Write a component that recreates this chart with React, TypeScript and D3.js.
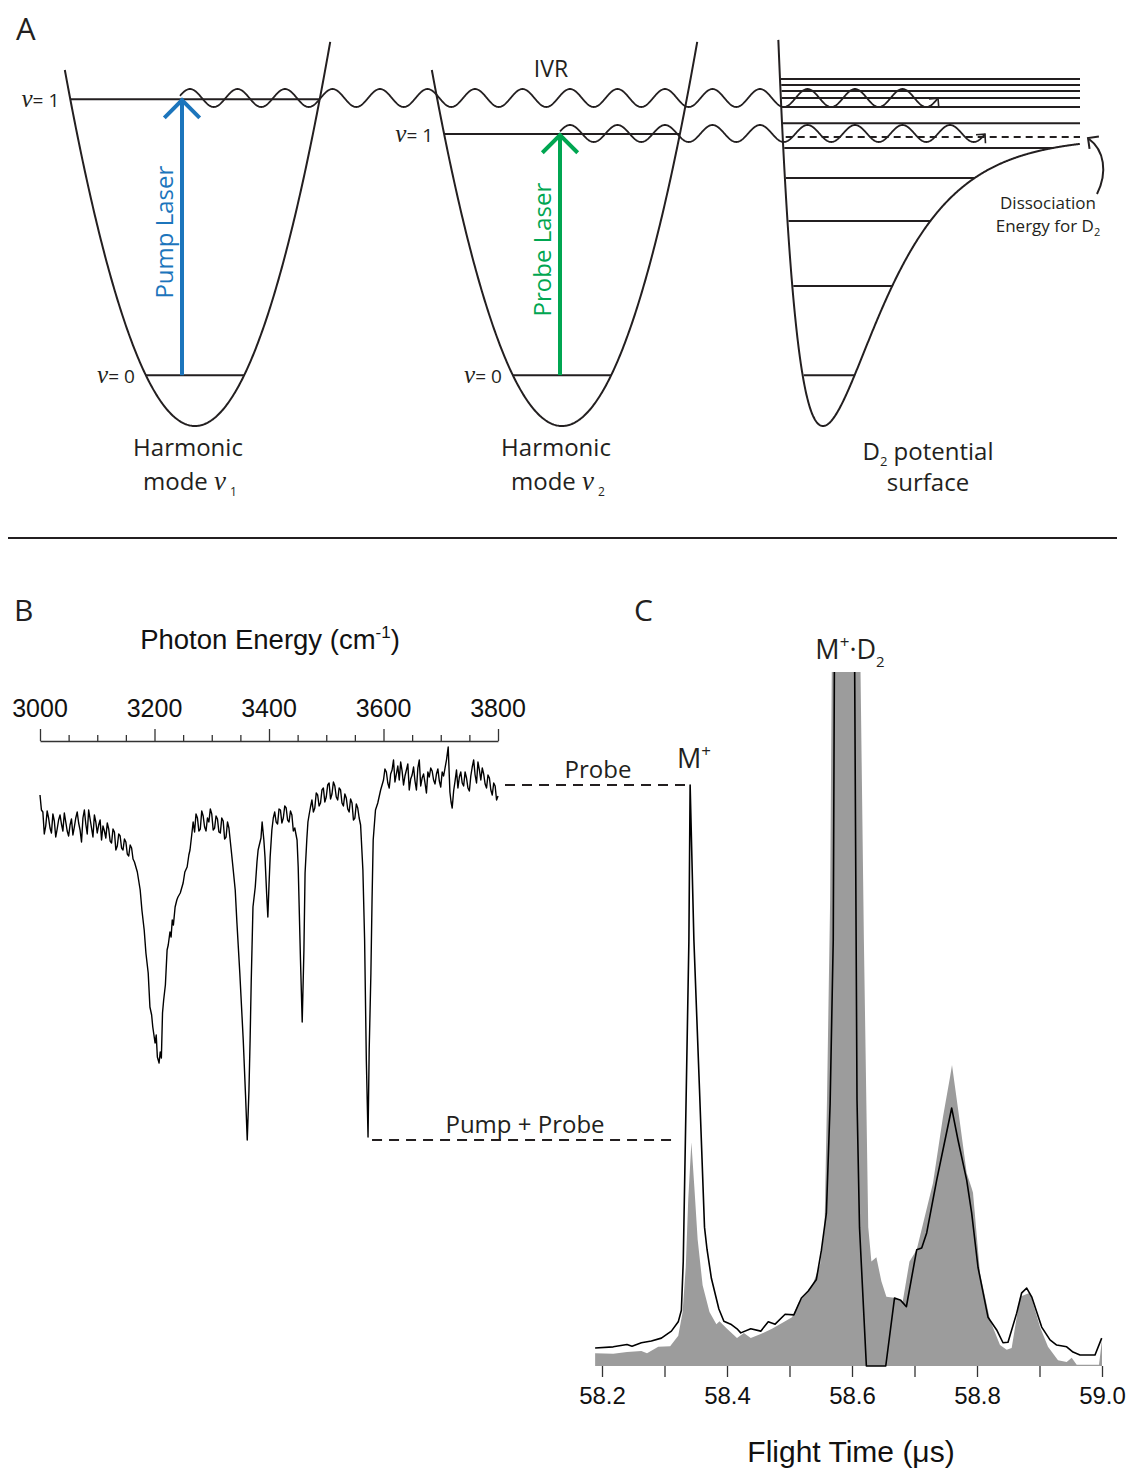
import React, { useEffect, useRef } from "react";
import * as d3 from "d3";

const WIDTH = 1130;
const HEIGHT = 1470;

const SANS = "'Open Sans', 'Noto Sans', sans-serif";
const ARIAL = "'Liberation Sans', Arial, sans-serif";
const SERIF = "'Liberation Serif', 'DejaVu Serif', serif";
const INK = "#231f20";
const PUMP_BLUE = "#1c75bc";
const PROBE_GREEN = "#00a651";
const TRACE_GRAY = "#9c9c9c";

// ---------- Panel A: vibrational energies (units of the D2 binding energy)
const pumpModeLevels = [0.176, 1.131];
const probeModeLevels = [0.176, 1.01];
const d2BoundLevels = [0.176, 0.484, 0.709, 0.858, 0.962];
const d2ContinuumLevels = [1.048, 1.104, 1.135, 1.159, 1.18, 1.201];
const d2DissociationEnergy = 1.0;

// ---------- Panel B: photon energy (cm-1) vs. M+ signal (arb. units)
const photonEnergyTicks = [3000, 3200, 3400, 3600, 3800];
const spectrum: [number, number][] = [
  [3000, 345], [3002.5, 330], [3005, 328], [3007.5, 306], [3010, 314], [3012.5, 329], [3015, 322],
  [3017.5, 312], [3020, 307], [3022.5, 326], [3025, 319], [3027.5, 303], [3030, 311], [3032.5, 320],
  [3035, 325], [3037.5, 316], [3040, 309], [3042.5, 327], [3045, 318], [3047.5, 309], [3050, 304],
  [3052.5, 315], [3055, 321], [3057.5, 305], [3060, 313], [3062.5, 322], [3065, 328], [3067.5, 317],
  [3070, 310], [3072.5, 298], [3075, 322], [3077.5, 330], [3080, 316], [3082.5, 306], [3085, 330],
  [3087.5, 321], [3090, 312], [3092.5, 303], [3095, 325], [3097.5, 318], [3100, 307], [3102.5, 315],
  [3105, 320], [3107.5, 300], [3110, 314], [3112.5, 309], [3115, 302], [3117.5, 317], [3120, 311],
  [3122.5, 299], [3125, 297], [3127.5, 311], [3130, 308], [3132.5, 290], [3135, 294], [3137.5, 306],
  [3140, 304], [3142.5, 292], [3145, 290], [3147.5, 301], [3150, 298], [3152.5, 286], [3155, 284],
  [3157.5, 295], [3160, 292], [3162.5, 281], [3165, 278], [3170, 268],
  [3175, 250], [3178, 230], [3182, 210], [3185, 187], [3189, 167], [3192, 133], [3195, 125],
  [3197, 113], [3201, 97], [3203, 105], [3205, 83], [3208, 77], [3210, 88], [3212, 82],
  [3214, 127], [3216, 140], [3219, 155], [3222, 190], [3224, 195], [3227, 208], [3229, 203],
  [3231, 220], [3233, 215], [3236, 233], [3239, 240], [3241, 243], [3245, 247], [3250, 257],
  [3253, 268], [3257, 273], [3260, 285], [3262, 290], [3265, 305], [3267.5, 318], [3270, 308],
  [3272.5, 326], [3275, 322], [3277.5, 309], [3280, 311], [3282.5, 329], [3285, 324], [3287.5, 313],
  [3290, 309], [3292.5, 322], [3295, 318], [3297.5, 331], [3300, 326], [3302.5, 310], [3305, 312],
  [3307.5, 324], [3310, 321], [3312.5, 308], [3315, 307], [3317.5, 322], [3320, 319], [3322.5, 301],
  [3325, 303], [3327.5, 318], [3330, 312], [3334, 290], [3337, 273], [3341, 250],
  [3344, 217], [3349, 167], [3355, 100], [3359, 45], [3362, 0], [3365, 50], [3367, 100],
  [3369, 160], [3372, 233], [3376, 253], [3379, 278], [3381, 290], [3386, 302], [3388, 318],
  [3391, 300], [3393, 283], [3396, 245], [3398, 223], [3400, 255], [3402, 283], [3405, 310],
  [3407.5, 322], [3410, 328], [3412.5, 318], [3415, 316], [3417.5, 331], [3420, 330], [3422.5, 317],
  [3425, 322], [3427.5, 334], [3430, 332], [3432.5, 320], [3435, 318], [3437.5, 329], [3440, 325],
  [3442.5, 309], [3445, 312], [3449, 300], [3451, 273], [3455, 180], [3458, 118], [3461, 190],
  [3463, 267], [3466, 300], [3468, 318], [3470, 325], [3472.5, 333], [3475, 340], [3477.5, 328],
  [3480, 332], [3482.5, 347], [3485, 345], [3487.5, 334], [3490, 337], [3492.5, 350], [3495, 352],
  [3497.5, 338], [3500, 343], [3502.5, 355], [3505, 357], [3507.5, 341], [3510, 346], [3512.5, 358],
  [3515, 354], [3517.5, 343], [3520, 340], [3522.5, 352], [3525, 350], [3527.5, 337], [3530, 334],
  [3532.5, 346], [3535, 342], [3537.5, 331], [3540, 328], [3542.5, 341], [3545, 337], [3547.5, 320],
  [3550, 322], [3552.5, 336], [3555, 332], [3557.5, 322], [3560, 315], [3564, 270],
  [3567, 200], [3570, 80], [3573, 3], [3575, 90], [3578, 167], [3580, 240], [3582, 300],
  [3586, 330], [3590, 337], [3595, 350], [3600, 360], [3602.5, 371], [3605, 368], [3607.5, 357],
  [3610, 352], [3612.5, 366], [3615, 370], [3617.5, 380], [3620, 358], [3622.5, 366], [3625, 374],
  [3627.5, 360], [3630, 378], [3632.5, 369], [3635, 355], [3637.5, 364], [3640, 370], [3642.5, 376],
  [3645, 350], [3647.5, 361], [3650, 365], [3652.5, 373], [3655, 359], [3657.5, 350], [3660, 372],
  [3662.5, 380], [3665, 354], [3667.5, 362], [3670, 366], [3672.5, 357], [3675, 347], [3677.5, 368],
  [3680, 363], [3682.5, 372], [3685, 369], [3687.5, 360], [3690, 356], [3692.5, 366], [3695, 371],
  [3697.5, 359], [3700, 353], [3702.5, 368], [3705, 364], [3707.5, 372], [3710, 380], [3713, 393],
  [3716, 348], [3718, 338], [3720, 332], [3722.5, 349], [3725, 359], [3727.5, 370], [3730, 352],
  [3732.5, 363], [3735, 368], [3737.5, 357], [3740, 354], [3742.5, 368], [3745, 362], [3747.5, 352],
  [3750, 349], [3752.5, 364], [3755, 373], [3757.5, 380], [3760, 365], [3762.5, 357], [3765, 378],
  [3767.5, 370], [3770, 360], [3772.5, 372], [3775, 366], [3777.5, 356], [3780, 352], [3782.5, 365],
  [3785, 362], [3787.5, 350], [3790, 345], [3792.5, 357], [3795, 354], [3797.5, 340], [3800, 344],
];
const probeOnlyLevel = 355;
const pumpProbeLevel = 0;

// ---------- Panel C: flight time (µs) vs. ion signal (% of probe-only M+ peak)
const flightTimeTicks = [58.2, 58.3, 58.4, 58.5, 58.6, 58.7, 58.8, 58.9, 59.0];
const flightTimeLabels = [58.2, 58.4, 58.6, 58.8, 59.0];
const probeTrace: [number, number][] = [
  [58.189, 3.1], [58.218, 3.3], [58.24, 3.7], [58.248, 3.4], [58.263, 4.0], [58.279, 4.3],
  [58.295, 4.8], [58.311, 6.0], [58.322, 7.6], [58.327, 9.6], [58.33, 18.0], [58.339, 73.0],
  [58.341, 100], [58.347, 73.4], [58.356, 47.6], [58.364, 23.9], [58.368, 20.1], [58.375, 15.1],
  [58.387, 9.8], [58.395, 7.7], [58.406, 7.2], [58.416, 6.4], [58.422, 5.7], [58.438, 6.4],
  [58.454, 6.0], [58.466, 7.6], [58.477, 7.2], [58.493, 8.9], [58.507, 8.8], [58.519, 11.7],
  [58.53, 12.9], [58.543, 14.9], [58.551, 19.9], [58.559, 26.3], [58.565, 45.2], [58.57, 73.4],
  [58.572, 125], [58.604, 125], [58.608, 45.9], [58.612, 23.9], [58.623, 0], [58.654, 0],
  [58.668, 11.7], [58.678, 11.3], [58.687, 10.2], [58.7035, 20.0], [58.7115, 20.3], [58.7195, 22.9],
  [58.7355, 32.0], [58.7595, 44.4], [58.7696, 38.9], [58.7835, 32.0], [58.7915, 26.3], [58.8016, 17.0],
  [58.8176, 8.4], [58.8315, 6.2], [58.8416, 4.0], [58.8496, 4.1], [58.8635, 9.1], [58.8715, 12.6],
  [58.8795, 13.4], [58.8875, 11.9], [58.9035, 6.7], [58.9168, 4.5], [58.9275, 3.6], [58.9435, 3.3],
  [58.9536, 2.4], [58.9648, 1.9], [58.9888, 1.9], [58.9995, 4.8],
];
const pumpProbeTrace: [number, number][] = [
  [58.189, 2.2], [58.218, 2.1], [58.24, 2.4], [58.263, 2.6], [58.272, 2.2], [58.29, 3.3],
  [58.309, 3.4], [58.322, 5.2], [58.329, 9.3], [58.334, 17.0], [58.338, 28.7], [58.343, 38.5],
  [58.348, 30.4], [58.353, 21.8], [58.361, 13.9], [58.372, 9.3], [58.383, 7.2], [58.388, 7.7],
  [58.4, 6.4], [58.416, 4.8], [58.427, 5.7], [58.438, 4.8], [58.454, 5.5], [58.472, 6.4],
  [58.493, 7.7], [58.504, 8.4], [58.515, 11.0], [58.527, 12.5], [58.538, 14.3], [58.549, 17.5],
  [58.556, 23.5], [58.56, 45.9], [58.565, 80.2], [58.568, 125], [58.613, 125], [58.619, 73.4],
  [58.626, 23.9], [58.631, 18.0], [58.639, 18.7], [58.647, 14.6], [58.655, 11.9], [58.67, 11.7],
  [58.681, 11.0], [58.692, 18.0], [58.7035, 20.0], [58.7296, 31.5], [58.7456, 42.9], [58.7568, 49.7],
  [58.76, 51.8], [58.7728, 41.8], [58.7835, 33.2], [58.7915, 30.6], [58.7936, 29.8], [58.8048, 16.0],
  [58.8208, 7.9], [58.8368, 3.6], [58.8475, 2.8], [58.8555, 3.1], [58.8688, 11.9], [58.8848, 12.6],
  [58.9008, 6.7], [58.9136, 3.3], [58.9296, 1.0], [58.9435, 0.7], [58.9515, 1.4], [58.9595, 0.2],
  [58.9952, 0.2], [59.0, 4.5],
];

type Sel = d3.Selection<any, any, any, any>;

function arrowBarbs(g: Sel, tip: [number, number], dir: [number, number], len: number, color: string, width: number) {
  const m = Math.hypot(dir[0], dir[1]);
  const ux = -dir[0] / m;
  const uy = -dir[1] / m;
  const rot = (a: number) => [
    tip[0] + len * (ux * Math.cos(a) - uy * Math.sin(a)),
    tip[1] + len * (ux * Math.sin(a) + uy * Math.cos(a)),
  ];
  const p1 = rot(Math.PI / 4);
  const p2 = rot(-Math.PI / 4);
  g.append("path")
    .attr("d", `M${p1[0]},${p1[1]}L${tip[0]},${tip[1]}L${p2[0]},${p2[1]}`)
    .attr("fill", "none")
    .attr("stroke", color)
    .attr("stroke-width", width)
    .attr("stroke-linejoin", "miter");
}

function nuLabel(g: Sel, xEnd: number, y: number, n: number) {
  const t = g.append("text").attr("x", xEnd).attr("y", y).attr("text-anchor", "end").attr("fill", INK);
  t.append("tspan").attr("font-family", SERIF).attr("font-style", "italic").attr("font-size", 25).text("ν");
  t.append("tspan").attr("font-family", SANS).attr("font-size", 19).text("= " + n);
}

function drawPanelA(svg: Sel) {
  const g = svg.append("g");
  const yE = d3.scaleLinear().domain([0, 1]).range([426, 137]);
  const line = d3.line<number[]>().x((d) => d[0]).y((d) => d[1]);
  const K = 7.27e-5;

  g.append("text").attr("x", 16).attr("y", 40).attr("font-family", SANS).attr("font-size", 31).attr("fill", INK).text("A");

  const wells = [
    { center: 195, topLeft: 1.232, topRight: 1.329, levels: pumpModeLevels, name: "Pump Laser", color: PUMP_BLUE, sub: "1", capX: 190 },
    { center: 562, topLeft: 1.232, topRight: 1.329, levels: probeModeLevels, name: "Probe Laser", color: PROBE_GREEN, sub: "2", capX: 558 },
  ];

  wells.forEach((w) => {
    const xl = w.center - Math.sqrt(w.topLeft / K);
    const xr = w.center + Math.sqrt(w.topRight / K);
    const pts = d3.range(xl, xr, 1).concat([xr]).map((x) => [x, yE(K * (x - w.center) ** 2)]);
    g.append("path").attr("d", line(pts)).attr("fill", "none").attr("stroke", INK).attr("stroke-width", 2);

    w.levels.forEach((E, i) => {
      const hw = Math.sqrt(E / K);
      g.append("line")
        .attr("x1", w.center - hw).attr("x2", w.center + hw)
        .attr("y1", yE(E)).attr("y2", yE(E))
        .attr("stroke", INK).attr("stroke-width", 2);
      nuLabel(g, w.center - hw - 11, yE(E) + 8, i);
    });

    const ax = w.center - 13 + (w.center > 300 ? 11 : 0);
    const yTop = yE(w.levels[1]);
    const yBot = yE(w.levels[0]);
    g.append("line").attr("x1", ax).attr("x2", ax).attr("y1", yBot).attr("y2", yTop + 1)
      .attr("stroke", w.color).attr("stroke-width", 4);
    arrowBarbs(g, [ax, yTop + 1], [0, -1], 25, w.color, 4);

    g.append("text")
      .attr("transform", `translate(${ax - 9},${(yTop + yBot) / 2 - 5}) rotate(-90)`)
      .attr("text-anchor", "middle").attr("font-family", SANS).attr("font-size", 24)
      .attr("fill", w.color).text(w.name);

    g.append("text").attr("x", w.capX - 2).attr("y", 456).attr("text-anchor", "middle")
      .attr("font-family", SANS).attr("font-size", 24).attr("fill", INK).text("Harmonic");
    const t = g.append("text").attr("x", w.capX).attr("y", 490).attr("text-anchor", "middle")
      .attr("fill", INK);
    t.append("tspan").attr("font-family", SANS).attr("font-size", 24).text("mode ");
    t.append("tspan").attr("font-family", SERIF).attr("font-style", "italic").attr("font-size", 27).text("ν");
    t.append("tspan").attr("font-family", SANS).attr("font-size", 12).attr("dx", 4).attr("dy", 6).text(w.sub);
  });

  // D2 Morse potential
  const x0 = 823;
  const a = 0.0172;
  const morse = (x: number) => (1 - Math.exp(-a * (x - x0))) ** 2;
  const leftWall = (E: number) => x0 - Math.log(1 + Math.sqrt(E)) / a;
  const rightWall = (E: number) => (E < 1 ? x0 - Math.log(1 - Math.sqrt(E)) / a : 1080);
  const xStart = leftWall(1.336);
  const mPts = d3.range(xStart, 1080, 0.5).map((x) => [x, yE(morse(x))]);
  g.append("path").attr("d", line(mPts)).attr("fill", "none").attr("stroke", INK).attr("stroke-width", 2);

  d2BoundLevels.concat(d2ContinuumLevels).forEach((E) => {
    g.append("line")
      .attr("x1", leftWall(E) + 1).attr("x2", rightWall(E))
      .attr("y1", yE(E)).attr("y2", yE(E))
      .attr("stroke", INK).attr("stroke-width", 2);
  });
  g.append("line")
    .attr("x1", leftWall(d2DissociationEnergy) + 3).attr("x2", 1080)
    .attr("y1", yE(d2DissociationEnergy)).attr("y2", yE(d2DissociationEnergy))
    .attr("stroke", INK).attr("stroke-width", 2).attr("stroke-dasharray", "7,5");

  // IVR waves
  const waves = [
    { x0: 180, x1: 938, yc: 98, amp: 9, lambda: 47.5, peak: 190 },
    { x0: 560, x1: 985, yc: 133.5, amp: 8.5, lambda: 47.5, peak: 570 },
  ];
  waves.forEach((w) => {
    const f = (x: number) => w.yc - w.amp * Math.cos((2 * Math.PI * (x - w.peak)) / w.lambda);
    const pts = d3.range(w.x0, w.x1, 0.5).concat([w.x1]).map((x) => [x, f(x)]);
    g.append("path").attr("d", line(pts)).attr("fill", "none").attr("stroke", INK).attr("stroke-width", 1.8);
    const tip: [number, number] = [w.x1, f(w.x1)];
    arrowBarbs(g, tip, [1, f(w.x1) - f(w.x1 - 1)], 9, INK, 1.6);
  });
  g.append("text").attr("x", 551).attr("y", 77).attr("text-anchor", "middle")
    .attr("font-family", SANS).attr("font-size", 23).attr("fill", INK).text("IVR");

  // dissociation energy pointer
  g.append("path").attr("d", "M1097,194 C1108,172 1104,150 1089,139")
    .attr("fill", "none").attr("stroke", INK).attr("stroke-width", 2);
  arrowBarbs(g, [1088, 138], [-1, -0.75], 11, INK, 2);
  g.append("text").attr("x", 1048).attr("y", 209).attr("text-anchor", "middle")
    .attr("font-family", SANS).attr("font-size", 17).attr("fill", INK).text("Dissociation");
  const de = g.append("text").attr("x", 1048).attr("y", 232).attr("text-anchor", "middle")
    .attr("font-family", SANS).attr("font-size", 17).attr("fill", INK);
  de.append("tspan").text("Energy for D");
  de.append("tspan").attr("font-size", 11).attr("dy", 4).text("2");

  const ps = g.append("text").attr("x", 928).attr("y", 460).attr("text-anchor", "middle")
    .attr("font-family", SANS).attr("font-size", 24).attr("fill", INK);
  ps.append("tspan").text("D");
  ps.append("tspan").attr("font-size", 13).attr("dy", 6).text("2");
  ps.append("tspan").attr("dy", -6).text(" potential");
  g.append("text").attr("x", 928).attr("y", 491).attr("text-anchor", "middle")
    .attr("font-family", SANS).attr("font-size", 24).attr("fill", INK).text("surface");

  // separator
  g.append("line").attr("x1", 8).attr("x2", 1117).attr("y1", 538).attr("y2", 538)
    .attr("stroke", INK).attr("stroke-width", 2);
}

const xB = d3.scaleLinear().domain([3000, 3800]).range([40, 498]);
const yB = d3.scaleLinear().domain([0, 355]).range([1140, 785]);
const xC = d3.scaleLinear().domain([58.2, 59.0]).range([602, 1102]);
const yC = d3.scaleLinear().domain([0, 100]).range([1366, 785]);

function drawPanelB(svg: Sel) {
  const g = svg.append("g");
  g.append("text").attr("x", 14).attr("y", 621).attr("font-family", SANS).attr("font-size", 30).attr("fill", INK).text("B");

  const title = g.append("text").attr("x", 270).attr("y", 649).attr("text-anchor", "middle")
    .attr("font-family", ARIAL).attr("font-size", 27.5).attr("fill", "#111");
  title.append("tspan").text("Photon Energy (cm");
  title.append("tspan").attr("font-size", 17).attr("dy", -11).text("-1");
  title.append("tspan").attr("dy", 11).text(")");

  const axis = d3.axisTop(xB).tickValues(d3.range(3000, 3801, 50)).tickSize(6).tickSizeOuter(0).tickFormat(() => "");
  const gAx = g.append("g").attr("transform", "translate(0,741)").call(axis);
  gAx.select(".domain").attr("stroke", "#333").attr("stroke-width", 1.3);
  gAx.selectAll(".tick line").attr("stroke", "#333").attr("stroke-width", 1.3)
    .attr("y2", (d: any) => (photonEnergyTicks.includes(d) ? -12 : -6));
  photonEnergyTicks.forEach((v) => {
    g.append("text").attr("x", xB(v)).attr("y", 717).attr("text-anchor", "middle")
      .attr("font-family", ARIAL).attr("font-size", 25).attr("fill", "#111").text(String(v));
  });

  const line = d3.line<[number, number]>().x((d) => xB(d[0])).y((d) => yB(d[1]));
  g.append("path").attr("d", line(spectrum)).attr("fill", "none").attr("stroke", "#000")
    .attr("stroke-width", 1.4).attr("stroke-linejoin", "round");
}

function drawPanelC(svg: Sel) {
  const g = svg.append("g");
  g.append("text").attr("x", 634).attr("y", 621).attr("font-family", SANS).attr("font-size", 30).attr("fill", INK).text("C");

  svg.append("defs").append("clipPath").attr("id", "tof-clip")
    .append("rect").attr("x", 580).attr("y", 672).attr("width", 540).attr("height", 695);

  const plot = g.append("g").attr("clip-path", "url(#tof-clip)");
  const area = d3.area<[number, number]>().x((d) => xC(d[0])).y0(yC(0)).y1((d) => yC(d[1]));
  plot.append("path").attr("d", area(pumpProbeTrace)).attr("fill", TRACE_GRAY).attr("stroke", "none");
  const line = d3.line<[number, number]>().x((d) => xC(d[0])).y((d) => yC(d[1]));
  plot.append("path").attr("d", line(probeTrace)).attr("fill", "none").attr("stroke", "#000")
    .attr("stroke-width", 1.6).attr("stroke-linejoin", "round");

  const axis = d3.axisBottom(xC).tickValues(flightTimeTicks).tickSize(11).tickSizeOuter(0).tickPadding(10)
    .tickFormat((d: any) => (flightTimeLabels.includes(d) ? d3.format(".1f")(d) : ""));
  const gAx = g.append("g").attr("transform", `translate(0,${yC(0)})`).call(axis);
  gAx.select(".domain").remove();
  gAx.selectAll(".tick line").attr("stroke", "#333").attr("stroke-width", 1.3);
  gAx.selectAll(".tick text").attr("font-family", ARIAL).attr("font-size", 24).attr("fill", "#111");

  g.append("text").attr("x", 851).attr("y", 1462).attr("text-anchor", "middle")
    .attr("font-family", ARIAL).attr("font-size", 30).attr("fill", "#111").text("Flight Time (μs)");

  // peak labels
  const m1 = g.append("text").attr("x", 694).attr("y", 768).attr("text-anchor", "middle")
    .attr("font-family", SANS).attr("font-size", 27).attr("fill", INK);
  m1.append("tspan").text("M");
  m1.append("tspan").attr("font-size", 17).attr("dy", -11).text("+");
  const m2 = g.append("text").attr("x", 850).attr("y", 659).attr("text-anchor", "middle")
    .attr("font-family", SANS).attr("font-size", 27).attr("fill", INK);
  m2.append("tspan").text("M");
  m2.append("tspan").attr("font-size", 17).attr("dy", -11).text("+");
  m2.append("tspan").attr("dy", 11).text("·D");
  m2.append("tspan").attr("font-size", 15).attr("dy", 8).text("2");

  // connectors from the spectrum levels to the M+ peaks
  const yProbe = yB(probeOnlyLevel);
  const yPump = yB(pumpProbeLevel);
  g.append("line").attr("x1", xB(3800) + 7).attr("x2", xC(58.341) - 3).attr("y1", yProbe).attr("y2", yProbe)
    .attr("stroke", INK).attr("stroke-width", 2).attr("stroke-dasharray", "10,7");
  g.append("line").attr("x1", xB(3573) + 4).attr("x2", xC(58.311)).attr("y1", yPump).attr("y2", yPump)
    .attr("stroke", INK).attr("stroke-width", 2).attr("stroke-dasharray", "10,7");
  g.append("text").attr("x", 598).attr("y", 778).attr("text-anchor", "middle")
    .attr("font-family", SANS).attr("font-size", 24).attr("fill", INK).text("Probe");
  g.append("text").attr("x", 525).attr("y", 1133).attr("text-anchor", "middle")
    .attr("font-family", SANS).attr("font-size", 24).attr("fill", INK).text("Pump + Probe");
}

export default function App() {
  const ref = useRef<SVGSVGElement>(null);
  useEffect(() => {
    const svg = d3.select(ref.current);
    svg.selectAll("*").remove();
    svg.append("rect").attr("width", WIDTH).attr("height", HEIGHT).attr("fill", "#fff");
    drawPanelA(svg);
    drawPanelB(svg);
    drawPanelC(svg);
  }, []);
  return (
    <svg
      ref={ref}
      width={WIDTH}
      height={HEIGHT}
      style={{ position: "absolute", left: 0, top: 0, display: "block" }}
    />
  );
}
